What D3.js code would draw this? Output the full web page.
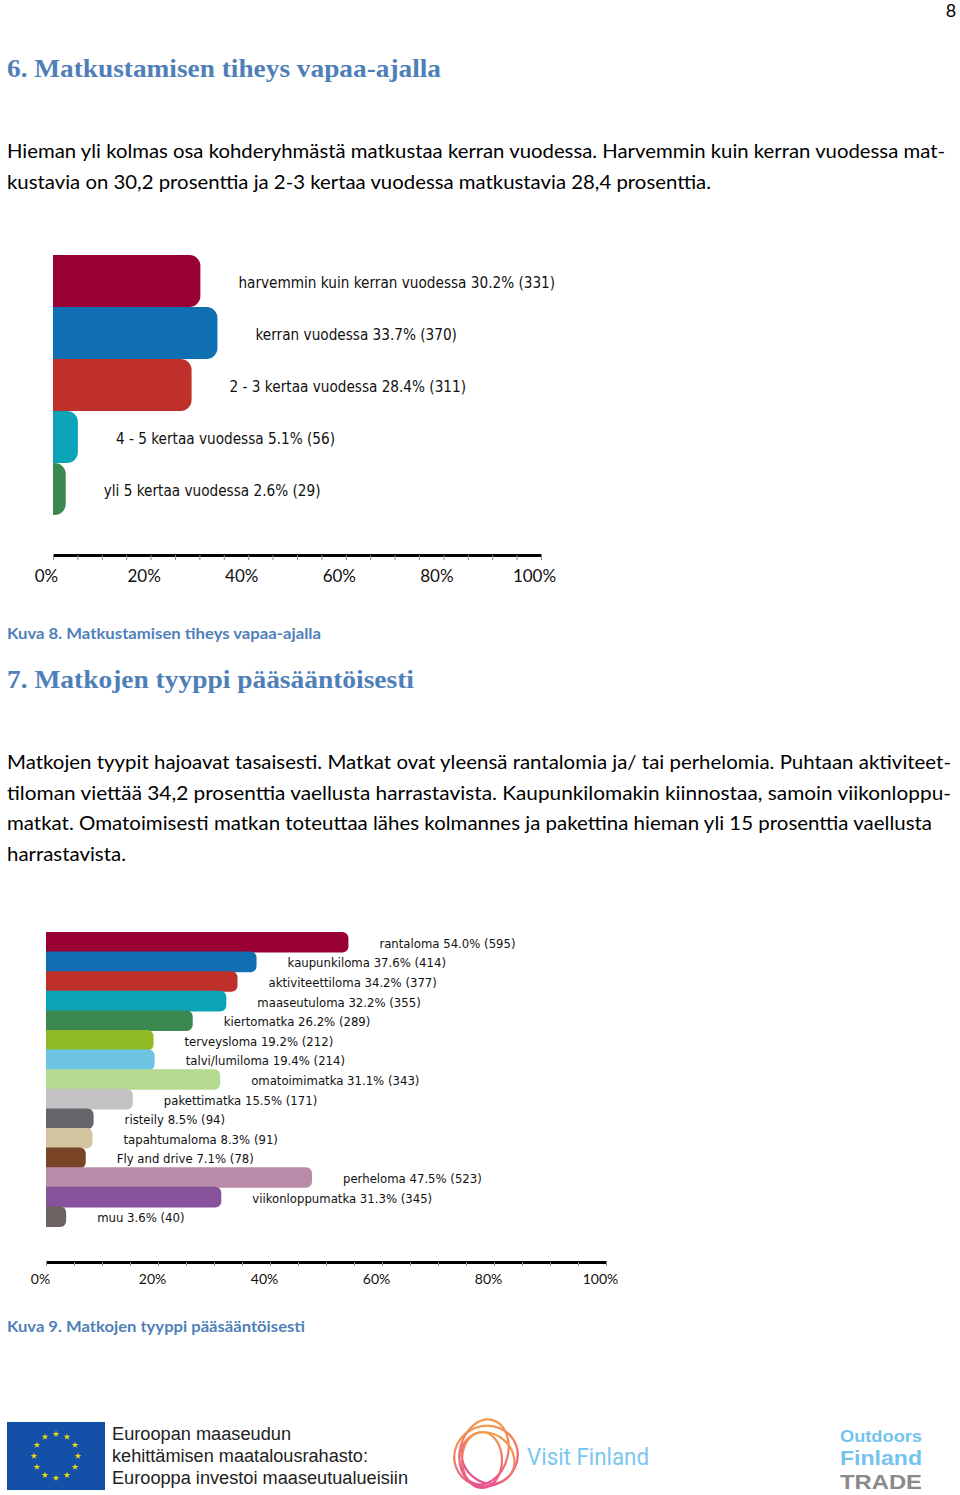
<!DOCTYPE html>
<html><head><meta charset="utf-8">
<script src="https://cdn.jsdelivr.net/npm/d3@7"></script>
<style>
html,body{margin:0;padding:0;background:#fff;}
svg{display:block;}
</style></head>
<body>
<svg id="page" width="960" height="1495"></svg>
<script>
// ---------- DATA ----------
const freqCategories = ["harvemmin kuin kerran vuodessa","kerran vuodessa","2 - 3 kertaa vuodessa","4 - 5 kertaa vuodessa","yli 5 kertaa vuodessa"];
const freqPercent = [30.2, 33.7, 28.4, 5.1, 2.6];
const freqCounts = [331, 370, 311, 56, 29];
const freqColors = ["#990033","#0f6fb2","#c0302b","#0ba3b8","#3a8750"];

const typeCategories = ["rantaloma","kaupunkiloma","aktiviteettiloma","maaseutuloma","kiertomatka","terveysloma","talvi/lumiloma","omatoimimatka","pakettimatka","risteily","tapahtumaloma","Fly and drive","perheloma","viikonloppumatka","muu"];
const typePercent = [54.0, 37.6, 34.2, 32.2, 26.2, 19.2, 19.4, 31.1, 15.5, 8.5, 8.3, 7.1, 47.5, 31.3, 3.6];
const typeCounts = [595, 414, 377, 355, 289, 212, 214, 343, 171, 94, 91, 78, 523, 345, 40];
const typeColors = ["#990033","#0f6fb2","#c0302b","#0ba3b8","#3a8750","#8fba23","#6cc4e2","#b4d98f","#c2c2c2","#64656b","#d3c49f","#7a4427","#b98ba9","#86529c","#6b6460"];

const tickValues = [0, 20, 40, 60, 80, 100];
const tickLabels = ["0%","20%","40%","60%","80%","100%"];
const minorTicks = d3.range(0, 101, 5);

const heading6 = "6. Matkustamisen tiheys vapaa-ajalla";
const para1 = ["Hieman yli kolmas osa kohderyhmästä matkustaa kerran vuodessa. Harvemmin kuin kerran vuodessa mat-",
               "kustavia  on 30,2 prosenttia ja 2-3 kertaa vuodessa matkustavia 28,4 prosenttia."];
const caption8 = "Kuva 8. Matkustamisen tiheys vapaa-ajalla";
const heading7 = "7. Matkojen tyyppi pääsääntöisesti";
const para2 = ["Matkojen tyypit hajoavat tasaisesti. Matkat ovat yleensä rantalomia ja/ tai perhelomia.  Puhtaan aktiviteet-",
               "tiloman viettää 34,2 prosenttia vaellusta harrastavista.  Kaupunkilomakin kiinnostaa, samoin viikonloppu-",
               "matkat. Omatoimisesti matkan toteuttaa lähes kolmannes ja pakettina hieman yli 15 prosenttia vaellusta",
               "harrastavista."];
const caption9 = "Kuva 9. Matkojen tyyppi pääsääntöisesti";
const euText = ["Euroopan maaseudun","kehittämisen maatalousrahasto:","Eurooppa investoi maaseutualueisiin"];

// ---------- HELPERS ----------
const svg = d3.select("#page");
const BLUE = "#4f7fb8";
const bodyFont = "Lato, 'Open Sans', sans-serif";

function textLine(g, str, x, y, opts) {
  const t = g.append("text").attr("x", x).attr("y", y).text(str)
    .attr("font-family", opts.family).attr("font-size", opts.size)
    .attr("fill", opts.fill || "#000");
  if (opts.weight) t.attr("font-weight", opts.weight);
  if (opts.len) t.attr("textLength", opts.len).attr("lengthAdjust", "spacingAndGlyphs");
  if (opts.anchor) t.attr("text-anchor", opts.anchor);
  return t;
}

function roundedRight(x0, y0, w, h, r) {
  r = Math.min(r, w, h / 2);
  return `M${x0},${y0}H${x0 + w - r}A${r},${r} 0 0 1 ${x0 + w},${y0 + r}V${y0 + h - r}A${r},${r} 0 0 1 ${x0 + w - r},${y0 + h}H${x0}Z`;
}

function drawChart(cfg) {
  const g = svg.append("g");
  const x = d3.scaleLinear().domain([0, 100]).range([cfg.x0, cfg.x1]);
  const y = d3.scaleBand().domain(cfg.cats).range([cfg.y0, cfg.y1]).padding(0);
  const data = cfg.cats.map((c, i) => ({c, p: cfg.vals[i], n: cfg.counts[i], col: cfg.colors[i]}));
  g.selectAll("path.bar").data(data).join("path").attr("class", "bar")
    .attr("d", d => roundedRight(x(0), y(d.c), x(d.p) - x(0), y.bandwidth() + cfg.overlap, cfg.radius))
    .attr("fill", d => d.col);
  g.selectAll("text.lab").data(data).join("text").attr("class", "lab")
    .attr("transform", d => `translate(${x(d.p) + cfg.labelGap},${y(d.c) + y.bandwidth() / 2 + cfg.labelDy}) scale(${cfg.squeeze},1)`)
    .attr("font-family", "'DejaVu Sans', Verdana, sans-serif")
    .attr("font-size", cfg.labelSize).attr("fill", "#111")
    .text(d => `${d.c} ${d.p.toFixed(1)}% (${d.n})`);

  const axis = d3.axisBottom(x).tickValues(minorTicks).tickSize(cfg.tickSize).tickSizeOuter(0)
    .tickFormat(d => { const k = tickValues.indexOf(d); return k >= 0 ? tickLabels[k] : ""; });
  const ag = g.append("g").attr("transform", `translate(0,${cfg.axisY})`).call(axis);
  ag.select(".domain").attr("stroke", "#000").attr("stroke-width", 3);
  ag.selectAll(".tick line").attr("stroke", "#888").attr("stroke-width", 1);
  ag.selectAll(".tick text").attr("font-family", bodyFont).attr("font-size", cfg.tickFont)
    .attr("fill", "#111").attr("y", cfg.tickTextY).attr("dy", 0).attr("dx", cfg.tickDx);
}

// ---------- PAGE TEXT ----------
const tg = svg.append("g");
textLine(tg, "8", 951, 17, {family: bodyFont, size: 18, anchor: "middle"});
textLine(tg, heading6, 7, 77, {family: "'Liberation Serif', 'DejaVu Serif', serif", size: 25, weight: "bold", fill: BLUE, len: 434});
const p1len = [938, 704];
para1.forEach((s, i) => textLine(tg, s, 7, 158 + i * 30.5, {family: bodyFont, size: 20, len: p1len[i]}));
textLine(tg, caption8, 7, 639, {family: bodyFont, size: 15, weight: "bold", fill: BLUE, len: 314});
textLine(tg, heading7, 7, 688, {family: "'Liberation Serif', 'DejaVu Serif', serif", size: 25, weight: "bold", fill: BLUE, len: 407});
const p2len = [944, 944, 925, 119];
para2.forEach((s, i) => textLine(tg, s, 7, 769 + i * 30.5, {family: bodyFont, size: 20, len: p2len[i]}));
textLine(tg, caption9, 7, 1332, {family: bodyFont, size: 15, weight: "bold", fill: BLUE, len: 298});

// ---------- CHARTS ----------
drawChart({cats: freqCategories, vals: freqPercent, counts: freqCounts, colors: freqColors,
  x0: 53, x1: 541, y0: 255, y1: 515, overlap: 0, radius: 11, labelGap: 38, labelDy: 7,
  labelSize: 15, squeeze: 0.91, axisY: 555, tickSize: 5, tickFont: 17, tickTextY: 27, tickDx: -7});

drawChart({cats: typeCategories, vals: typePercent, counts: typeCounts, colors: typeColors,
  x0: 46, x1: 606, y0: 932, y1: 1226, overlap: 1, radius: 6, labelGap: 31, labelDy: 6,
  labelSize: 13, squeeze: 0.9, axisY: 1262, tickSize: 4, tickFont: 14, tickTextY: 22, tickDx: -6});

// ---------- LOGOS ----------
const lg = svg.append("g");
lg.append("rect").attr("x", 7).attr("y", 1422).attr("width", 98).attr("height", 68).attr("fill", "#1550a8");
const starPath = d3.symbol().type(d3.symbolStar).size(14)();
d3.range(12).forEach(i => {
  const a = i * Math.PI / 6;
  lg.append("path").attr("d", starPath)
    .attr("transform", `translate(${56 + 22 * Math.sin(a)},${1456 - 22 * Math.cos(a)})`)
    .attr("fill", "#f5d90a");
});
euText.forEach((s, i) => textLine(lg, s, 112, 1440 + i * 22, {family: "'Liberation Sans', Arial, sans-serif", size: 18, fill: "#222", len: [179, 256, 296][i]}));

const defs = svg.append("defs");
const grad = defs.append("linearGradient").attr("id", "vf").attr("x1", 0).attr("y1", 0).attr("x2", 0).attr("y2", 1);
grad.append("stop").attr("offset", "0%").attr("stop-color", "#f39a4a");
grad.append("stop").attr("offset", "100%").attr("stop-color", "#e9508f");
const swirl = lg.append("g").attr("fill", "none").attr("stroke", "url(#vf)").attr("stroke-width", 2.2);
swirl.append("ellipse").attr("cx", 486).attr("cy", 1456).attr("rx", 32).attr("ry", 30).attr("transform", "rotate(-20,486,1456)");
swirl.append("ellipse").attr("cx", 484).attr("cy", 1452).attr("rx", 24).attr("ry", 33).attr("transform", "rotate(15,484,1452)");
swirl.append("ellipse").attr("cx", 488).attr("cy", 1458).attr("rx", 28).attr("ry", 24).attr("transform", "rotate(40,488,1458)");
swirl.append("ellipse").attr("cx", 482).attr("cy", 1460).attr("rx", 20).attr("ry", 28);
textLine(lg, "Visit Finland", 527, 1465, {family: "Roboto, 'Noto Sans', sans-serif", size: 24, fill: "#7dc6ef", len: 122});

textLine(lg, "Outdoors", 840, 1442, {family: "'Liberation Sans', Arial, sans-serif", size: 17, weight: "bold", fill: "#74c2ee", len: 82});
textLine(lg, "Finland", 840, 1465, {family: "'Liberation Sans', Arial, sans-serif", size: 21, weight: "bold", fill: "#74c2ee", len: 82});
textLine(lg, "TRADE", 840, 1489, {family: "'Liberation Sans', Arial, sans-serif", size: 21, weight: "bold", fill: "#8a8a8a", len: 82});
</script>
</body></html>
